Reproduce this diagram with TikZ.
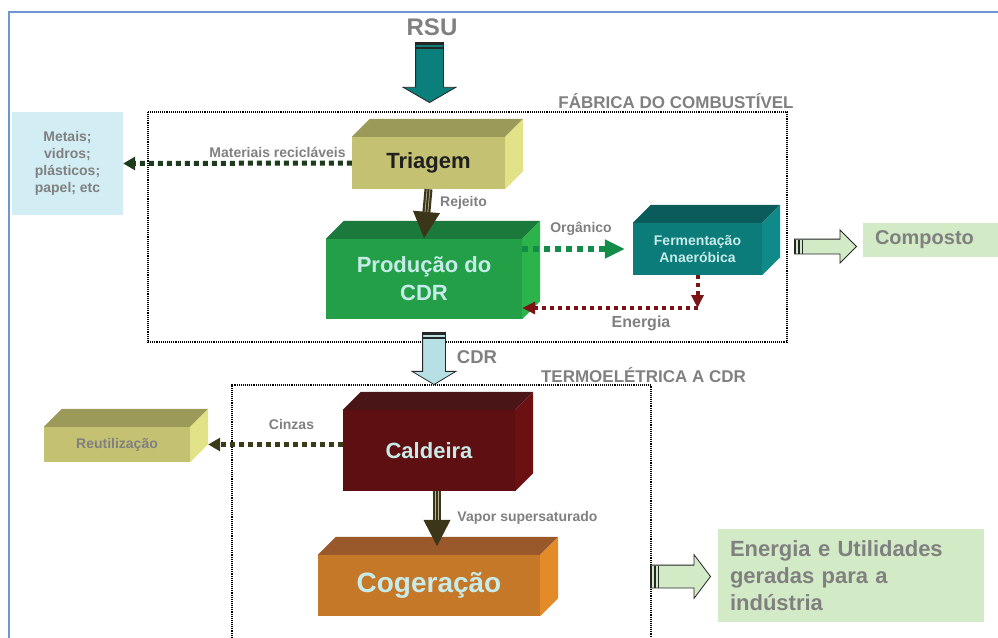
\documentclass[tikz,border=0pt]{standalone}
\usepackage{fontspec}
\setmainfont{Liberation Sans}
\usetikzlibrary{arrows.meta,shapes.arrows}

\definecolor{framebl}{HTML}{6F96D0}
\definecolor{txtgray}{HTML}{808080}
\definecolor{lighttext}{HTML}{C6EBE9}
\definecolor{triatext}{HTML}{1F1F1F}
\definecolor{triafront}{HTML}{C4C272}
\definecolor{triatop}{HTML}{9C9A58}
\definecolor{triaside}{HTML}{E2E289}
\definecolor{prodfront}{HTML}{23A047}
\definecolor{prodtop}{HTML}{1B7A3B}
\definecolor{prodside}{HTML}{2DB34B}
\definecolor{fermfront}{HTML}{0C7C7A}
\definecolor{fermtop}{HTML}{0A5C5B}
\definecolor{fermside}{HTML}{0F8A88}
\definecolor{calfront}{HTML}{5E0F11}
\definecolor{caltop}{HTML}{4A1516}
\definecolor{calside}{HTML}{6C1012}
\definecolor{cogfront}{HTML}{C67829}
\definecolor{cogtop}{HTML}{99592A}
\definecolor{cogside}{HTML}{E38B29}
\definecolor{metfill}{HTML}{D2EEF4}
\definecolor{greenfill}{HTML}{D3EAC7}
\definecolor{rsuteal}{HTML}{0A7F7B}
\definecolor{cdrblue}{HTML}{B7E0E5}
\definecolor{edgedark}{HTML}{262626}
\definecolor{flowdark}{HTML}{3B3519}
\definecolor{stripelight}{HTML}{B8B49A}
\definecolor{recgreen}{HTML}{1D3B1D}
\definecolor{orggreen}{HTML}{138B49}
\definecolor{enered}{HTML}{7B1515}
\definecolor{cinolive}{HTML}{3B3B18}

\tikzset{
  box/.style={inner sep=0pt, align=center},
  lbl/.style={text=txtgray, font=\bfseries\fontsize{14}{17}\selectfont, inner sep=0pt},
  dotarrow/.style={line width=5pt, dash pattern=on 5pt off 4pt, -{Triangle[width=13pt,length=12pt]}},
  flowarrow/.style={line width=8pt, draw=flowdark, -{Triangle[width=25pt,length=27pt]}},
  shaftstripe/.style={draw=stripelight, line width=0.8pt, double=flowdark, double distance=2pt, shorten >=27pt},
  blockarrow/.style={single arrow, draw=edgedark, line width=0.8pt, inner xsep=0pt},
  tailstripe/.style={draw=edgedark, line width=2pt},
  dotframe/.style={draw=black, line width=1.3pt, dash pattern=on 1pt off 0.9pt}
}

% faces of a box: node, top colour, side colour
\newcommand{\cubefaces}[3]{%
  \fill[#2] (#1.north west) -- ++(18,-18) -- ([shift={(18,-18)}]#1.north east) -- (#1.north east) -- cycle;
  \fill[#3] (#1.north east) -- ++(18,-18) -- ([shift={(18,-18)}]#1.south east) -- (#1.south east) -- cycle;
}

\begin{document}
\begin{tikzpicture}[x=1pt,y=-1pt]
	\useasboundingbox (0,0) rectangle (998,637);
	% Rahmen
	\draw[framebl, line width=2pt] (9,640) -- (9,11.5) -- (1000,11.5);
	% Bereiche
	\draw[dotframe] (148,112) rectangle (787,342);
	\draw[dotframe] (232,640) -- (232,385) -- (651,385) -- (651,640);
	\node[lbl, font=\bfseries\fontsize{17}{20}\selectfont] (fablbl) at (676,101.5) {FÁBRICA DO COMBUSTÍVEL};
	\node[lbl, font=\bfseries\fontsize{17}{20}\selectfont] (termolbl) at (643.5,375) {TERMOELÉTRICA A CDR};
	% Boxen
	\node[box, fill=triafront, text=triatext, font=\bfseries\fontsize{22}{26}\selectfont, minimum width=153, minimum height=52] (triagem) at (428.5,163) {Triagem};
	\cubefaces{triagem}{triatop}{triaside}
	\node[box, fill=prodfront, text=lighttext, font=\bfseries\fontsize{22}{28}\selectfont, minimum width=196, minimum height=80] (prod) at (424,279) {Produção do\\CDR};
	\cubefaces{prod}{prodtop}{prodside}
	\node[box, fill=fermfront, text=lighttext, font=\bfseries\fontsize{14}{16.5}\selectfont, minimum width=129, minimum height=52] (ferm) at (697.5,249) {Fermentação\\Anaeróbica};
	\cubefaces{ferm}{fermtop}{fermside}
	\node[box, fill=metfill, text=txtgray, font=\bfseries\fontsize{14}{17}\selectfont, minimum width=111, minimum height=103] (metais) at (67.5,163.5) {Metais;\\vidros;\\plásticos;\\papel; etc};
	\node[box, fill=calfront, text=lighttext, font=\bfseries\fontsize{22}{26}\selectfont, minimum width=172, minimum height=81] (caldeira) at (429,450.5) {Caldeira};
	\cubefaces{caldeira}{caltop}{calside}
	\node[box, fill=cogfront, text=lighttext, font=\bfseries\fontsize{28}{32}\selectfont, minimum width=222, minimum height=61] (cogeracao) at (429,585.5) {Cogeração};
	\cubefaces{cogeracao}{cogtop}{cogside}
	\node[box, fill=triafront, text=txtgray, font=\bfseries\fontsize{14}{17}\selectfont, minimum width=146, minimum height=35] (reutil) at (117,444.5) {Reutilização};
	\cubefaces{reutil}{triatop}{triaside}
	\node[box, fill=greenfill, text=txtgray, font=\bfseries\fontsize{20}{24}\selectfont, text width=116, align=left, inner xsep=12pt, minimum height=34] (composto) at (933,240) {Composto};
	\node[box, fill=greenfill, text=txtgray, font=\bfseries\fontsize{22}{27}\selectfont, text width=242, align=left, inner xsep=12pt, minimum height=93] (utilidades) at (851,575.5) {Energia e Utilidades\\geradas para a\\indústria};
	% Beschriftungen
	\node[lbl, font=\bfseries\fontsize{24}{28}\selectfont] (rsulbl) at (432,27) {RSU};
	\node[lbl] (reclbl) at (277.5,152) {Materiais recicláveis};
	\node[lbl] (rejlbl) at (463.5,203) {Rejeito};
	\node[lbl] (orglbl) at (581,229) {Orgânico};
	\node[lbl, font=\bfseries\fontsize{16}{19}\selectfont] (enelbl) at (641,323) {Energia};
	\node[lbl, font=\bfseries\fontsize{18.5}{22}\selectfont] (cdrlbl) at (477,357) {CDR};
	\node[lbl] (cinlbl) at (291.5,424) {Cinzas};
	\node[lbl] (vaplbl) at (527.5,518) {Vapor supersaturado};
	% Pfeile
	\draw[dotarrow, draw=recgreen] (triagem.west) -- (metais.east);
	\draw[flowarrow] (triagem.south) -- (prod.north);
	\draw[shaftstripe] (triagem.south) -- (prod.north);
	\draw[dotarrow, draw=orggreen, line width=6pt, dash pattern=on 6pt off 5pt, -{Triangle[width=18pt,length=20pt]}, shorten >=8pt] (prod.east |- ferm.west) -- (ferm.west);
	\coordinate (ecorner) at (697.5,308);
	\draw[dotarrow, draw=enered, line width=4pt, dash pattern=on 4pt off 4pt, -{Triangle[width=12pt,length=13pt]}] (ferm.south) -- (ecorner);
	\draw[dotarrow, draw=enered, line width=4pt, dash pattern=on 4pt off 4pt, -{Triangle[width=12pt,length=13pt]}] (ecorner) -- (prod.east |- ecorner);
	\draw[dotarrow, draw=cinolive] (caldeira.west |- reutil.east) -- ([xshift=18pt]reutil.east);
	\draw[flowarrow] ([xshift=8pt]caldeira.south) -- ([xshift=8pt,yshift=8pt]cogeracao.north);
	\draw[shaftstripe] ([xshift=8pt]caldeira.south) -- ([xshift=8pt,yshift=8pt]cogeracao.north);
	% Blockpfeile
	\node[blockarrow, fill=rsuteal, rotate=-90, minimum height=60, inner ysep=13.5pt, single arrow head extend=12.5, single arrow tip angle=120, anchor=tip] (rsuarrow) at (429.5,103) {};
	\foreach \d in {2pt,6pt} \draw[tailstripe] ([yshift=-\d]rsuarrow.tail) ++(-13.5,0) -- ++(27,0);
	\node[blockarrow, fill=cdrblue, rotate=-90, minimum height=52, inner ysep=11pt, single arrow head extend=10.5, single arrow tip angle=118, anchor=tip] (cdrarrow) at (434,385) {};
	\foreach \d in {2pt,6pt} \draw[tailstripe] ([yshift=-\d]cdrarrow.tail) ++(-11,0) -- ++(22,0);
	\node[blockarrow, fill=greenfill, minimum height=62, inner ysep=7pt, single arrow head extend=9, single arrow tip angle=90, anchor=tip] (comparrow) at (857,246.5) {};
	\foreach \d in {1.5pt,5pt,8.5pt} \draw[tailstripe, line width=1.5pt] ([xshift=\d]comparrow.tail) ++(0,-7) -- ++(0,14);
	\node[blockarrow, fill=greenfill, minimum height=60, inner ysep=11pt, single arrow head extend=10.5, single arrow tip angle=106, anchor=tip] (utilarrow) at (711,576.5) {};
	\foreach \d in {1.5pt,5pt,8.5pt} \draw[tailstripe, line width=1.5pt] ([xshift=\d]utilarrow.tail) ++(0,-11) -- ++(0,22);
\end{tikzpicture}
\end{document}
